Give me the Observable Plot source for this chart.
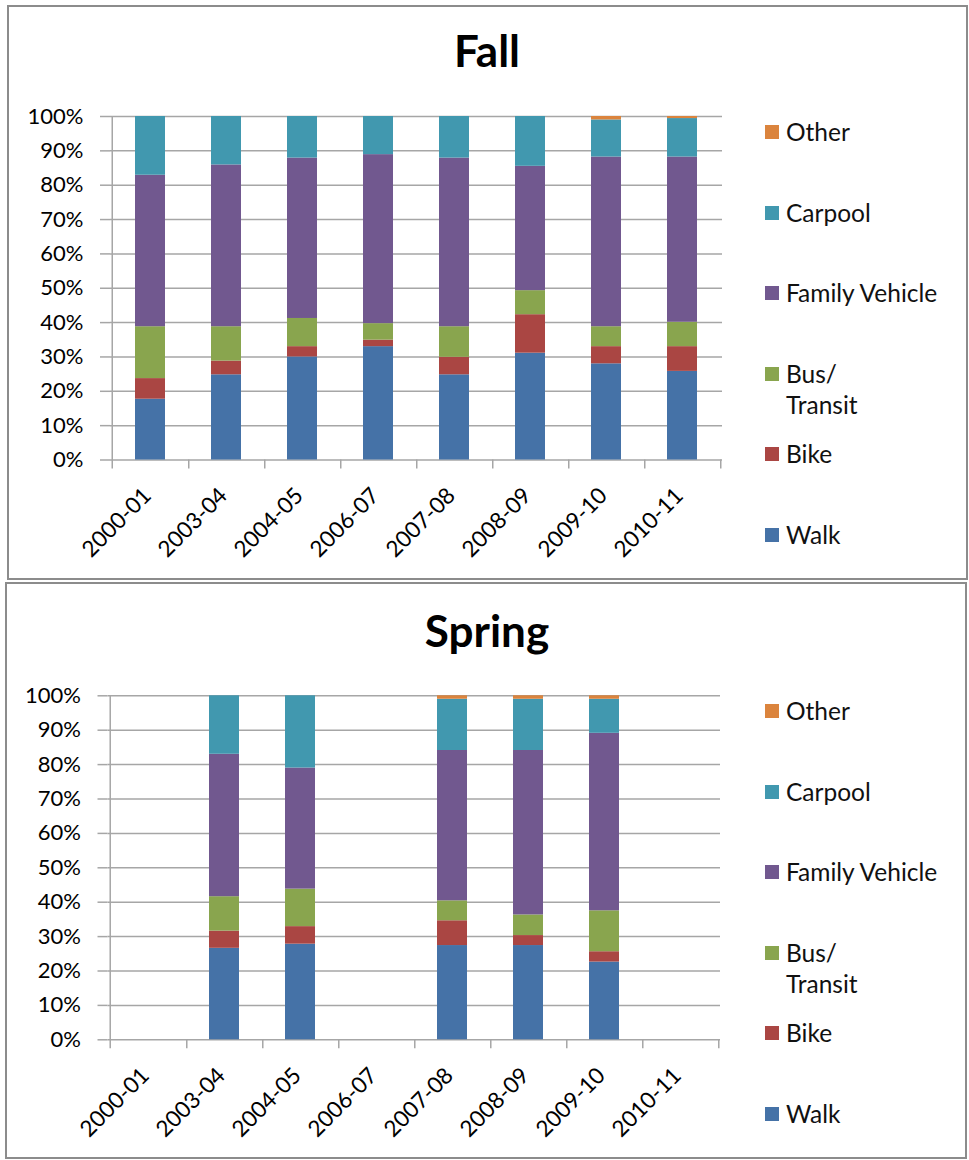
<!DOCTYPE html>
<html>
<head>
<meta charset="utf-8">
<script src="https://cdn.jsdelivr.net/npm/d3@7"></script>
<script src="https://cdn.jsdelivr.net/npm/@observablehq/plot@0.6"></script>
<style>
  body { margin: 0; background: #fff; font-family: Lato, "Open Sans", sans-serif; }
  #page { position: relative; width: 969px; height: 1160px; overflow: hidden; }
  .panel { position: absolute; box-sizing: border-box; border: 2px solid #8c8c8c; background: #fff; }
  .chart { position: absolute; left: 0; }
  .title { position: absolute; left: 0; width: 974px; text-align: center; font-weight: bold;
           font-size: 44px; line-height: 52px; color: #000; }
  .lg-item { position: absolute; font-size: 24.5px; line-height: 31px; color: #111; }
  .lg-sw { position: absolute; width: 14px; height: 14px; }
</style>
</head>
<body>
<div id="page"></div>
<script>
// ---- data ----
const years = ["2000-01", "2003-04", "2004-05", "2006-07", "2007-08", "2008-09", "2009-10", "2010-11"];
const modes = ["Walk", "Bike", "Bus/Transit", "Family Vehicle", "Carpool", "Other"];
const legendLabels = ["Walk", "Bike", "Bus/\nTransit", "Family Vehicle", "Carpool", "Other"];
const colors = ["#4572A7", "#AA4643", "#89A54E", "#71588F", "#4198AF", "#DB843D"];
const yTicks = [0, 10, 20, 30, 40, 50, 60, 70, 80, 90, 100];

// Fall (percent of trips)
const fallWalk    = [17.7, 24.8, 30.0, 33.0, 24.8, 31.1, 28.0, 25.8];
const fallBike    = [6.0, 4.0, 3.0, 1.9, 5.1, 11.2, 5.0, 7.2];
const fallBus     = [15.1, 10.0, 8.2, 4.8, 8.9, 7.0, 5.8, 7.1];
const fallFamily  = [44.1, 47.1, 46.7, 49.2, 49.1, 36.2, 49.4, 48.1];
const fallCarpool = [17.1, 14.1, 12.1, 11.1, 12.1, 14.5, 10.8, 11.2];
const fallOther   = [0, 0, 0, 0, 0, 0, 1.0, 0.6];

// Spring (null = no survey)
const springWalk    = [null, 26.6, 27.8, null, 27.4, 27.4, 22.6, null];
const springBike    = [null, 5.0, 5.1, null, 7.2, 2.9, 3.0, null];
const springBus     = [null, 10.0, 10.9, null, 5.8, 6.0, 11.9, null];
const springFamily  = [null, 41.4, 35.2, null, 43.7, 47.8, 51.6, null];
const springCarpool = [null, 17.0, 21.0, null, 14.9, 14.9, 9.9, null];
const springOther   = [null, 0, 0, null, 1.0, 1.0, 1.0, null];

function toRows(series) {
  const rows = [];
  series.forEach((vals, m) => {
    vals.forEach((v, i) => {
      if (v != null) rows.push({year: years[i], mode: modes[m], value: v});
    });
  });
  return rows;
}
const fallRows = toRows([fallWalk, fallBike, fallBus, fallFamily, fallCarpool, fallOther]);
const springRows = toRows([springWalk, springBike, springBus, springFamily, springCarpool, springOther]);

const page = document.getElementById("page");

function panel(cfg) {
  const p = document.createElement("div");
  p.className = "panel";
  Object.assign(p.style, {left: cfg.box[0] + "px", top: cfg.box[1] + "px",
    width: cfg.box[2] + "px", height: cfg.box[3] + "px"});
  page.appendChild(p);

  const W = 969, H = 580;
  const step = (W - cfg.mL - cfg.mR) / years.length;
  const grid = "#a6a6a6";
  const svg = Plot.plot({
    width: W, height: H,
    marginLeft: cfg.mL, marginRight: cfg.mR, marginTop: cfg.mT, marginBottom: cfg.mB,
    style: {background: "none", fontFamily: "Lato, 'Open Sans', sans-serif", fontSize: "22px", color: "#000", overflow: "visible"},
    x: {domain: years, paddingInner: 0.6, paddingOuter: 0.3, axis: null, label: null},
    y: {domain: [0, 100], axis: null, label: null},
    color: {domain: modes, range: colors},
    marks: [
      Plot.gridY({ticks: yTicks, stroke: grid, strokeOpacity: 1, strokeWidth: 1.5}),
      Plot.axisY({ticks: yTicks, tickFormat: d => d + "%", tickSize: 10, tickPadding: 17, label: null,
                  stroke: grid, strokeWidth: 1.5, fill: "#000", fontSize: 22}),
      Plot.barY(cfg.rows, {x: "year", y: "value", fill: "mode", order: modes}),
      // left axis line (extends down as the first category boundary tick)
      Plot.ruleX([years[0]], {x: d => d, y1: 100, y2: 0, dx: -step / 2, insetBottom: -9, stroke: grid, strokeWidth: 1.5}),
      // category boundary ticks
      Plot.ruleX(years, {x: d => d, y1: 0, y2: 0, dx: step / 2, insetBottom: -9, stroke: grid, strokeWidth: 1.5}),
      Plot.axisX({tickSize: 0, tickRotate: -45, tickPadding: cfg.labPad, dx: cfg.labDx, label: null,
                  fill: "#000", fontSize: 22.5})
    ]
  });
  svg.classList.add("chart");
  svg.style.top = cfg.top + "px";
  page.appendChild(svg);

  const t = document.createElement("div");
  t.className = "title";
  t.textContent = cfg.title;
  const fs = 44, lh = 52;
  t.style.top = (cfg.titleBase - ((lh - 1.2 * fs) / 2 + 0.987 * fs)) + "px";
  page.appendChild(t);

  // legend (top to bottom: Other ... Walk)
  const plotTop = cfg.top + cfg.mT;
  const offs = [419, 338, 258, 177, 97, 16];
  modes.forEach((m, i) => {
    const cy = plotTop + offs[i];
    const sw = document.createElement("div");
    sw.className = "lg-sw";
    sw.style.background = colors[i];
    sw.style.left = cfg.lgX + "px";
    sw.style.top = (cy - 7) + "px";
    page.appendChild(sw);
    const tx = document.createElement("div");
    tx.className = "lg-item";
    tx.style.left = (cfg.lgX + 21) + "px";
    tx.style.top = (cy - 16.5) + "px";
    tx.style.whiteSpace = "pre";
    tx.textContent = legendLabels[i];
    page.appendChild(tx);
  });
}

panel({title: "Fall", rows: fallRows, box: [7, 5, 961, 575], top: 0,
       mL: 110, mR: 247, mT: 116, mB: 120.5, titleBase: 67, lgX: 765, labPad: 32, labDx: -3});
panel({title: "Spring", rows: springRows, box: [5, 582, 962, 577], top: 580,
       mL: 107.5, mR: 249, mT: 115.3, mB: 120.7, titleBase: 647, lgX: 765, labPad: 32, labDx: -3});
</script>
</body>
</html>
